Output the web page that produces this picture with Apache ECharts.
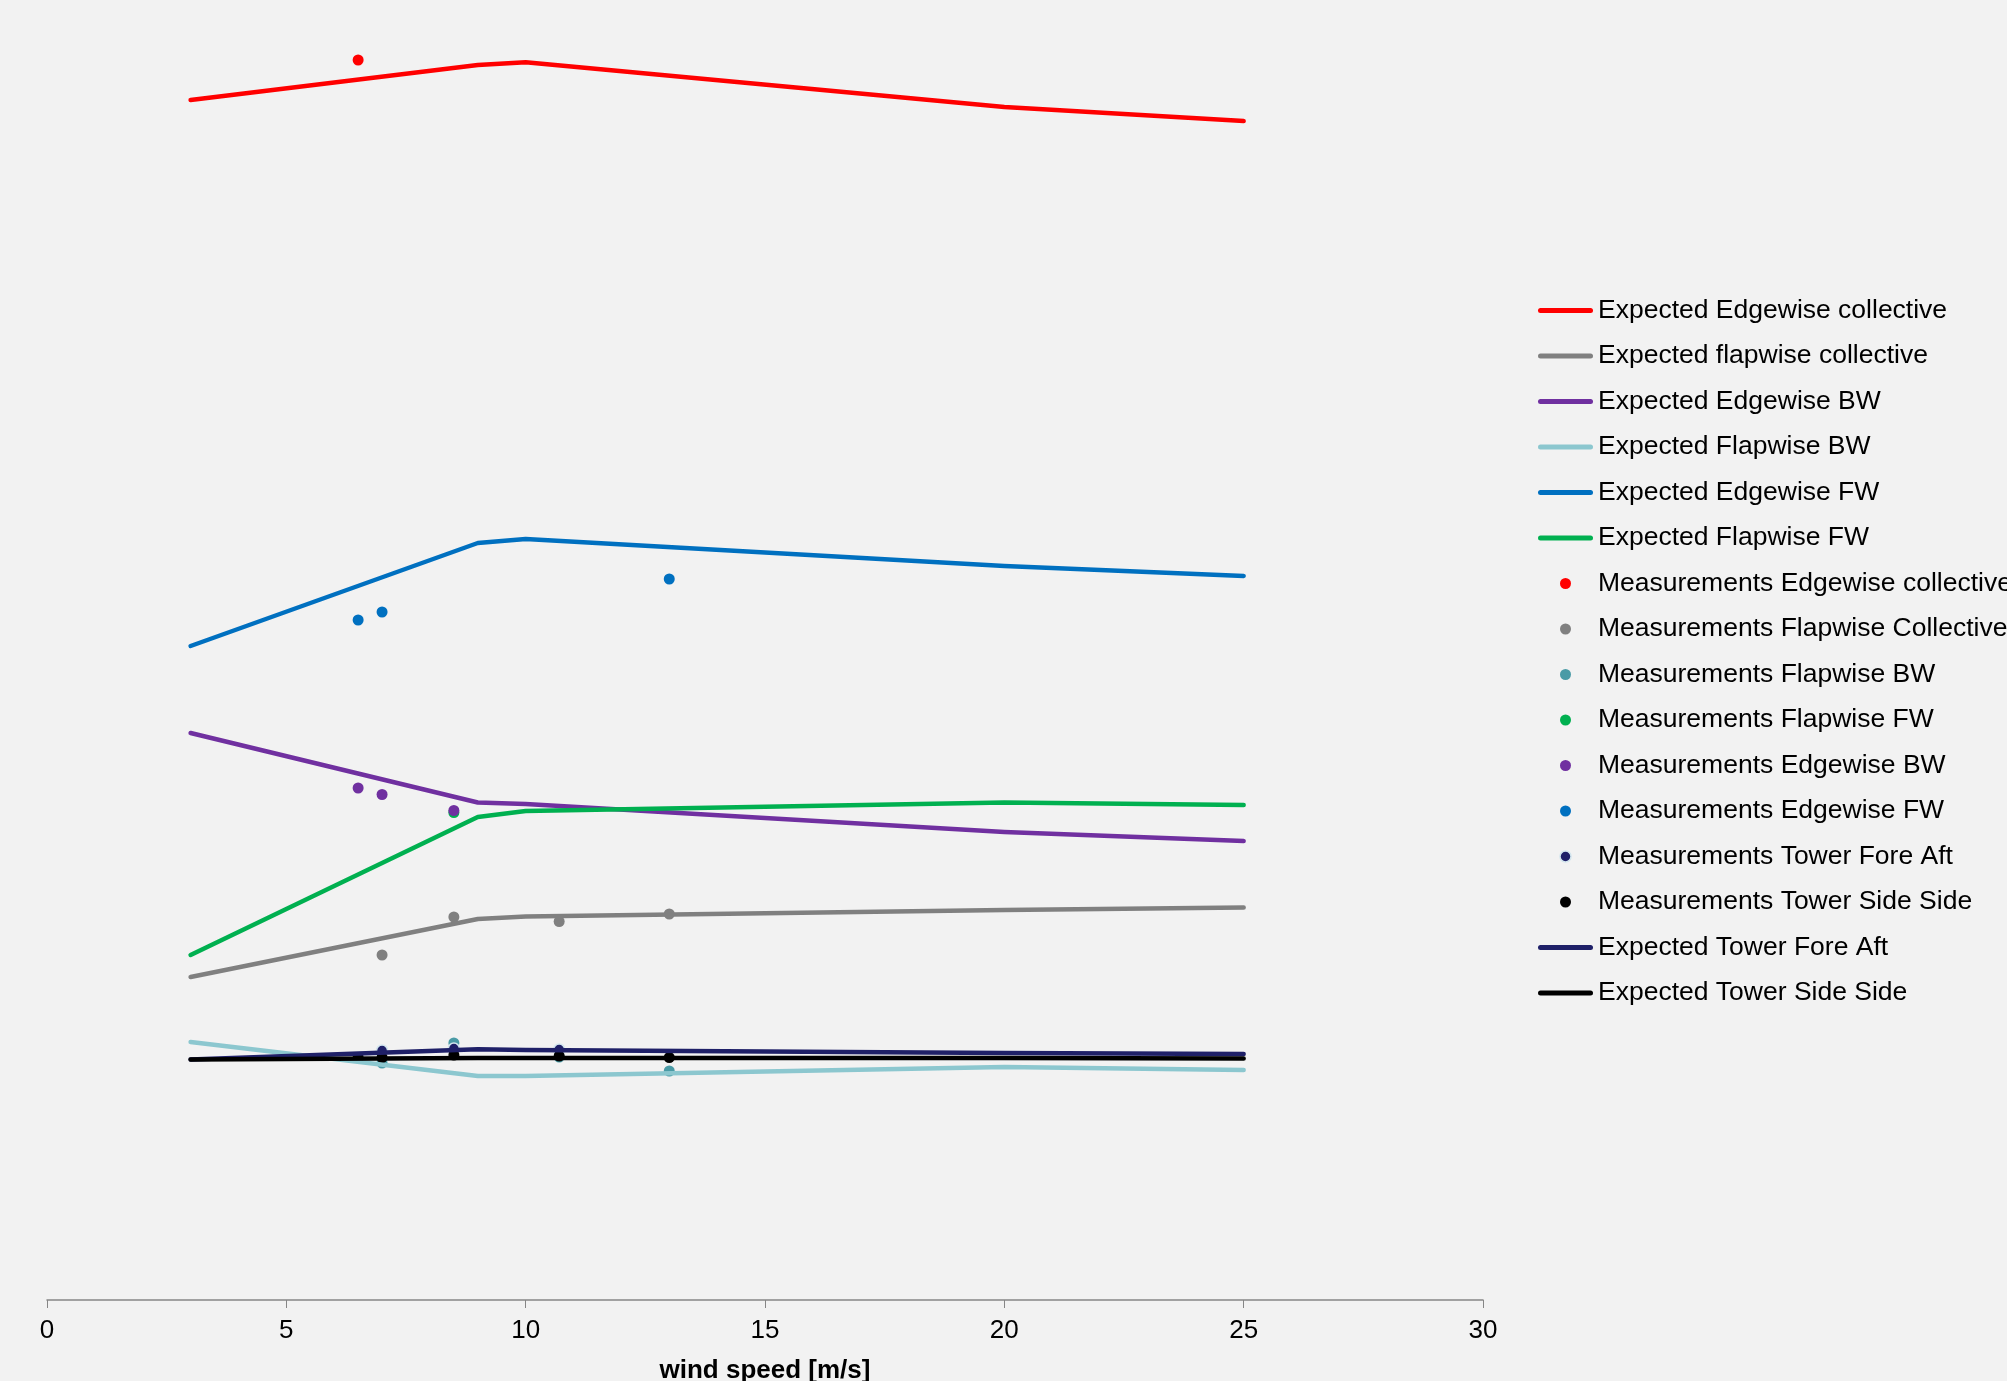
<!DOCTYPE html>
<html>
<head>
<meta charset="utf-8">
<style>
  html, body { margin: 0; padding: 0; background: #F2F2F2; }
  #chart { width: 2007px; height: 1381px; }
</style>
<script src="https://cdn.jsdelivr.net/npm/echarts@6/dist/echarts.min.js"></script>
</head>
<body>
<div id="chart"></div>
<script>
// Wind speed [m/s] on x, relative load level on y (no y scale shown)
const xTicks = [0, 5, 10, 15, 20, 25, 30];

// Expected curves: [wind speed, level]
const expEdgeColl = [[3, 120.0], [9, 123.5], [10, 123.77], [20, 119.3], [25, 117.9]];
const expFlapColl = [[3, 32.3], [9, 38.1], [10, 38.35], [20, 39.0], [25, 39.25]];
const expEdgeBW   = [[3, 56.7], [9, 49.75], [10, 49.6], [20, 46.8], [25, 45.9]];
const expFlapBW   = [[3, 25.8], [9, 22.4], [10, 22.4], [20, 23.3], [25, 23.0]];
const expEdgeFW   = [[3, 65.4], [9, 75.7], [10, 76.1], [20, 73.4], [25, 72.4]];
const expFlapFW   = [[3, 34.5], [9, 48.3], [10, 48.9], [20, 49.75], [25, 49.5]];
const expTowerFA  = [[3, 24.05], [9, 25.07], [10, 25.0], [20, 24.7], [25, 24.6]];
const expTowerSS  = [[3, 24.05], [9, 24.2], [10, 24.2], [20, 24.2], [25, 24.15]];

// Measurements: [wind speed, level]
const measEdgeColl = [[6.5, 124.0]];
const measFlapColl = [[7, 34.5], [8.5, 38.3], [10.7, 37.85], [13, 38.6]];
const measFlapBW   = [[7, 23.7], [8.5, 25.7], [10.7, 24.3], [13, 22.9]];
const measFlapFW   = [[8.5, 48.75]];
const measEdgeBW   = [[6.5, 51.2], [7, 50.55], [8.5, 48.95]];
const measEdgeFW   = [[6.5, 68.0], [7, 68.8], [13, 72.1]];
const measTowerFA  = [[7, 24.95], [8.5, 25.15], [10.7, 25.05]];
const measTowerSS  = [[6.5, 24.25], [7, 24.25], [8.5, 24.5], [10.7, 24.4], [13, 24.25]];

const FONT = '"Liberation Sans", Arial, sans-serif';
// Rounded bar used as the legend key of the line series
const LINE_KEY = 'path://M2.5,0 H52.5 A2.5,2.5 0 0 1 52.5,5 H2.5 A2.5,2.5 0 0 1 2.5,0 Z';

const legendItems = [];

function lineSeries(name, data, color) {
  legendItems.push({ name: name, icon: LINE_KEY, itemStyle: { color: color, borderWidth: 0 } });
  return {
    name: name, type: 'line', data: data, symbol: 'none',
    lineStyle: { color: color, width: 4.5, cap: 'round', join: 'round' },
    itemStyle: { color: color },
    emphasis: { disabled: true }, animation: false
  };
}
function dotSeries(name, data, color, border) {
  const s = {
    name: name, type: 'scatter', data: data, symbol: 'circle', symbolSize: 11,
    itemStyle: { color: color, opacity: 1 },
    emphasis: { disabled: true }, animation: false
  };
  const key = { name: name, icon: 'circle', itemStyle: { color: color, borderWidth: 0 } };
  if (border) {
    s.itemStyle.borderColor = border; s.itemStyle.borderWidth = 1.5;
    key.itemStyle.borderColor = border; key.itemStyle.borderWidth = 1.5;
  }
  legendItems.push(key);
  return s;
}

const series = [
  lineSeries('Expected Edgewise collective', expEdgeColl, '#FF0000'),
  lineSeries('Expected flapwise collective', expFlapColl, '#808080'),
  lineSeries('Expected Edgewise BW', expEdgeBW, '#7030A0'),
  lineSeries('Expected Flapwise BW', expFlapBW, '#8CC7CF'),
  lineSeries('Expected Edgewise FW', expEdgeFW, '#0070C0'),
  lineSeries('Expected Flapwise FW', expFlapFW, '#00B050'),
  dotSeries('Measurements Edgewise collective', measEdgeColl, '#FF0000'),
  dotSeries('Measurements Flapwise Collective', measFlapColl, '#808080'),
  dotSeries('Measurements Flapwise BW', measFlapBW, '#4A9BA6'),
  dotSeries('Measurements Flapwise FW', measFlapFW, '#00B050'),
  dotSeries('Measurements Edgewise BW', measEdgeBW, '#7030A0'),
  dotSeries('Measurements Edgewise FW', measEdgeFW, '#0070C0'),
  dotSeries('Measurements Tower Fore Aft', measTowerFA, '#1F2068', '#D3E6EE'),
  dotSeries('Measurements Tower Side Side', measTowerSS, '#000000'),
  lineSeries('Expected Tower Fore Aft', expTowerFA, '#1F2068'),
  lineSeries('Expected Tower Side Side', expTowerSS, '#000000')
];

const chart = echarts.init(document.getElementById('chart'), null, { renderer: 'canvas' });
chart.setOption({
  backgroundColor: '#F2F2F2',
  animation: false,
  textStyle: { fontFamily: FONT },
  grid: { left: 47, right: 524, top: 0, bottom: 81, containLabel: false, outerBoundsMode: 'none' },
  xAxis: {
    type: 'value', min: xTicks[0], max: xTicks[xTicks.length - 1], interval: 5,
    name: 'wind speed [m/s]', nameLocation: 'middle', nameGap: 58,
    nameTextStyle: { fontFamily: FONT, fontSize: 26, fontWeight: 'bold', color: '#000' },
    axisLine: { show: true, onZero: false, lineStyle: { color: '#868686', width: 1.5 } },
    axisTick: { show: true, length: 8, lineStyle: { color: '#868686', width: 1 } },
    axisLabel: { fontFamily: FONT, fontSize: 26, color: '#000', margin: 18 },
    splitLine: { show: false }
  },
  yAxis: {
    type: 'value', min: 0, max: 130, show: false, splitLine: { show: false }
  },
  legend: {
    orient: 'vertical', left: 1533, top: 292,
    itemWidth: 55, itemHeight: 11, itemGap: 18.5,
    textStyle: { fontFamily: FONT, fontSize: 26.5, color: '#000', lineHeight: 26 },
    data: legendItems,
    selectedMode: false
  },
  series: series
});
</script>
</body>
</html>
